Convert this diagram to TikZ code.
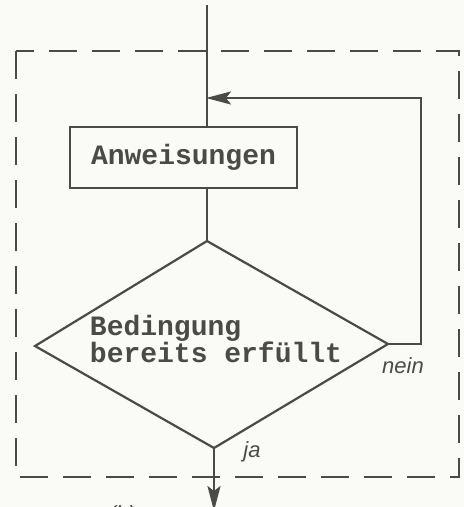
\documentclass[tikz,border=0pt]{standalone}
\usepackage{fontspec}
\newfontfamily\typew{Liberation Mono}
\newfontfamily\hand{Liberation Sans}
\usetikzlibrary{arrows.meta}
\definecolor{ink}{HTML}{4A4A48}
\definecolor{paper}{HTML}{FAFAF6}
\begin{document}
\begin{tikzpicture}[x=1pt,y=-1pt,
  line width=2.2pt, draw=ink,
  every node/.style={text=ink},
  flow/.style={draw=ink, line width=2.2pt},
  tip/.style={-{Stealth[length=25pt,width=13pt,inset=5pt]}},
  boxstyle/.style={draw=ink, line width=2.2pt, rectangle, minimum width=227pt, minimum height=61pt, inner sep=0pt,
     font=\typew\bfseries\fontsize{28}{25}\selectfont},
  condtext/.style={align=left, inner sep=0pt, font=\typew\bfseries\fontsize{28}{25}\selectfont},
  lbl/.style={inner sep=0pt, font=\hand\itshape\fontsize{22}{22}\selectfont},
  frame/.style={draw=ink, line width=2.2pt, dash pattern=on 28pt off 15pt}]
\fill[paper] (0,0) rectangle (464,507);
\useasboundingbox (0,0) rectangle (464,507);

% dashed frame
\draw[frame] (16,51) rectangle (459,477);

% coordinates
\coordinate (top) at (207,5);
\coordinate (join) at (206,98);
\coordinate (dtop) at (207,241);
\coordinate (dleft) at (35,346);
\coordinate (dright) at (388,344);
\coordinate (dbot) at (214,448);
\coordinate (out) at (214,511);
\coordinate (c1) at (421,344);
\coordinate (c2) at (421,98);

% box
\node[boxstyle] (anw) at (183.5,157.5) {Anweisungen};

% diamond
\draw[flow, line join=miter] (dtop) -- (dright) -- (dbot) -- (dleft) -- cycle;
\node[condtext] (cond) at (216,339) {Bedingung\\bereits erfüllt};

% connectors
\draw[flow] (top) -- (anw.north -| top);
\draw[flow] (anw.south -| top) -- (dtop);
\draw[flow, tip] (dright) -- (c1) -- (c2) -- (join);
\draw[flow, tip] (dbot) -- (out);

% labels
\node[lbl] (nein) at (403,366) {nein};
\node[lbl] (ja) at (252,452) {ja};
\node[inner sep=0pt, font=\hand\itshape\fontsize{22}{22}\selectfont] (b) at (122,516) {(b)};
\end{tikzpicture}
\end{document}
